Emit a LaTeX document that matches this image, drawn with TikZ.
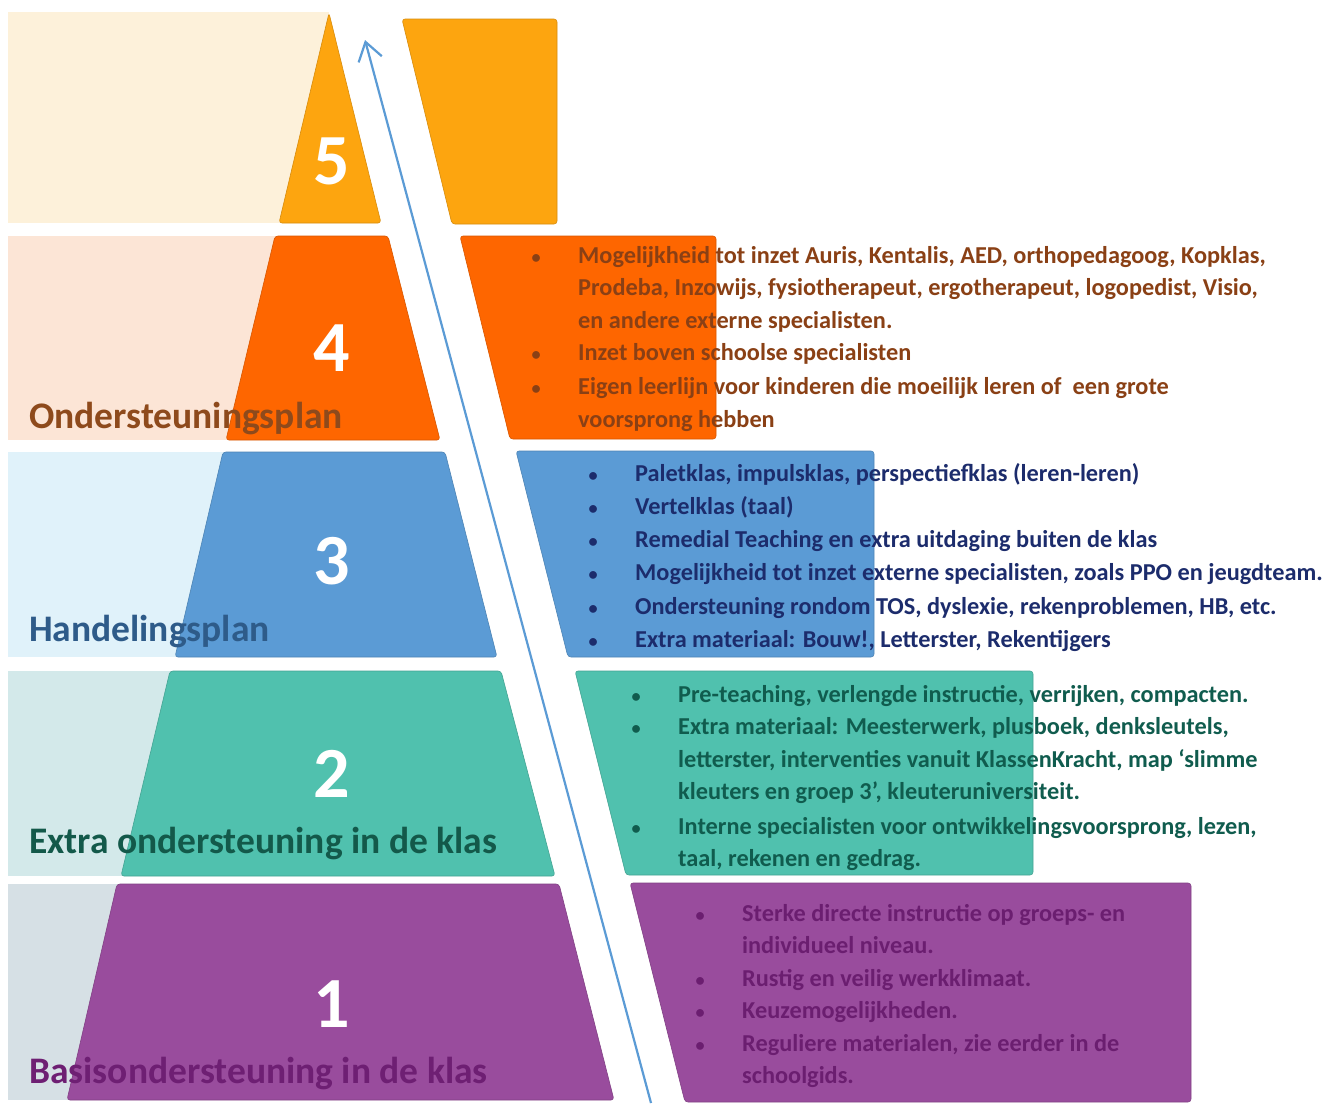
\documentclass[tikz,border=0pt]{standalone}
\usepackage{fontspec}
\setmainfont{Carlito}
\usetikzlibrary{arrows.meta}
\definecolor{cfive}{HTML}{FDA50F}
\definecolor{cfour}{HTML}{FE6600}
\definecolor{cthree}{HTML}{5B9BD5}
\definecolor{ctwo}{HTML}{50C1AE}
\definecolor{cone}{HTML}{994C9D}
\definecolor{lfive}{HTML}{FDF1DA}
\definecolor{lfour}{HTML}{FCE5D6}
\definecolor{lthree}{HTML}{E0F2FA}
\definecolor{ltwo}{HTML}{D3E9EA}
\definecolor{lone}{HTML}{D6E0E5}
\definecolor{tfour}{HTML}{8A4015}
\definecolor{tthree}{HTML}{1C2C6C}
\definecolor{ttwo}{HTML}{105C4E}
\definecolor{tone}{HTML}{6B1E70}
\definecolor{lbfour}{HTML}{8E4A1C}
\definecolor{lbthree}{HTML}{2E5B89}
\definecolor{lbtwo}{HTML}{13594A}
\definecolor{lbone}{HTML}{6E1F73}
\definecolor{arrowc}{HTML}{5B9BD5}
\newcommand\bul{\makebox[0pt]{\scalebox{0.75}{\textbullet}}\hspace*{42pt}}
\newcommand\cont{\hspace*{42pt}}
\begin{document}
\begin{tikzpicture}[x=1pt,y=-1pt,
  num/.style={text=white, font=\fontsize{72}{72}\selectfont\bfseries, inner sep=0pt},
  lab/.style={anchor=base west, inner sep=0pt, font=\fontsize{37.5}{37.5}\selectfont\bfseries},
  list/.style={anchor=base west, inner sep=0pt, font=\fontsize{24.3}{32.5}\selectfont\bfseries},
  tier/.style={rounded corners=3pt, line width=0.6pt}]
\useasboundingbox (0,0) rectangle (1324,1103);
\fill[white] (0,0) rectangle (1324,1103);
% light backgrounds
\fill[lfive] (8,12) rectangle (329,223);
\fill[lfour] (8,236) rectangle (300,440);
\fill[lthree] (8,452) rectangle (250,657);
\fill[ltwo] (8,671) rectangle (200,876);
\fill[lone] (8,884) rectangle (150,1100);
% pyramid
\filldraw[tier, fill=cfive, draw=cfive!85!black] (329,13) -- (381,223) -- (279,223) -- cycle;
\filldraw[tier, fill=cfour, draw=cfour!85!black] (275,236) -- (388,236) -- (440,440) -- (226,440) -- cycle;
\filldraw[tier, fill=cthree, draw=cthree!85!black] (223,452) -- (445,452) -- (497,657) -- (175,657) -- cycle;
\filldraw[tier, fill=ctwo, draw=ctwo!85!black] (170,671) -- (501,671) -- (555,876) -- (121,876) -- cycle;
\filldraw[tier, fill=cone, draw=cone!85!black] (117,884) -- (559,884) -- (614,1100) -- (67,1100) -- cycle;
% right panels
\filldraw[tier, fill=cfive, draw=cfive!85!black] (402,19) -- (557,19) -- (557,224) -- (452,224) -- cycle;
\filldraw[tier, fill=cfour, draw=cfour!85!black] (460,236) -- (716,236) -- (716,439) -- (510,439) -- cycle;
\filldraw[tier, fill=cthree, draw=cthree!85!black] (516,451) -- (874,451) -- (874,657) -- (568,657) -- cycle;
\filldraw[tier, fill=ctwo, draw=ctwo!85!black] (575,671) -- (1033,671) -- (1033,875) -- (626,875) -- cycle;
\filldraw[tier, fill=cone, draw=cone!85!black] (630,883) -- (1191,883) -- (1191,1102) -- (685,1102) -- cycle;
% numbers
\node[num] (n5) at (332,161) {5};
\node[num] (n4) at (332,348) {4};
\node[num] (n3) at (332,561) {3};
\node[num] (n2) at (332,774) {2};
\node[num] (n1) at (332,1004) {1};
% labels
\node[lab, text=lbfour] (l4) at (29,428) {Ondersteuningsplan};
\node[lab, text=lbthree] (l3) at (29,641) {Handelingsplan};
\node[lab, text=lbtwo] (l2) at (29,853) {Extra ondersteuning in de klas};
\node[lab, text=lbone] (l1) at (29,1083) {Basisondersteuning in de klas};
% lists
\node[list, text=tfour] (t4) at (536,263) {\begin{tabular}[t]{@{}l@{}}
\bul Mogelijkheid tot inzet Auris, Kentalis, AED, orthopedagoog, Kopklas,\\
\cont Prodeba, Inzowijs, fysiotherapeut, ergotherapeut, logopedist, Visio,\\
\cont en andere externe specialisten.\\
\bul Inzet boven schoolse specialisten\\[1.5pt]
\bul Eigen leerlijn voor kinderen die moeilijk leren of\ \ een grote\\
\cont voorsprong hebben
\end{tabular}};
\node[list, text=tthree, font=\fontsize{24.3}{33.3}\selectfont\bfseries] (t3) at (593,481) {\begin{tabular}[t]{@{}l@{}}
\bul Paletklas, impulsklas, perspectiefklas (leren-leren)\\
\bul Vertelklas (taal)\\
\bul Remedial Teaching en extra uitdaging buiten de klas\\
\bul Mogelijkheid tot inzet externe specialisten, zoals PPO en jeugdteam.\\
\bul Ondersteuning rondom TOS, dyslexie, rekenproblemen, HB, etc.\\
\bul Extra materiaal: Bouw!, Letterster, Rekentijgers
\end{tabular}};
\node[list, text=ttwo] (t2) at (636,702) {\begin{tabular}[t]{@{}l@{}}
\bul Pre-teaching, verlengde instructie, verrijken, compacten.\\
\bul Extra materiaal: Meesterwerk, plusboek, denksleutels,\\
\cont letterster, interventies vanuit KlassenKracht, map `slimme\\
\cont kleuters en groep 3', kleuteruniversiteit.\\[2pt]
\bul Interne specialisten voor ontwikkelingsvoorsprong, lezen,\\
\cont taal, rekenen en gedrag.
\end{tabular}};
\node[list, text=tone] (t1) at (700,921) {\begin{tabular}[t]{@{}l@{}}
\bul Sterke directe instructie op groeps- en\\
\cont individueel niveau.\\
\bul Rustig en veilig werkklimaat.\\
\bul Keuzemogelijkheden.\\
\bul Reguliere materialen, zie eerder in de\\
\cont schoolgids.
\end{tabular}};
% arrow
\coordinate (arrS) at (651,1103);
\coordinate (arrE) at (365,40);
\draw[arrowc, line width=2.2pt, -{Straight Barb[length=18pt,width=24pt,line width=2.2pt]}] (arrS) -- (arrE);
\end{tikzpicture}
\end{document}
